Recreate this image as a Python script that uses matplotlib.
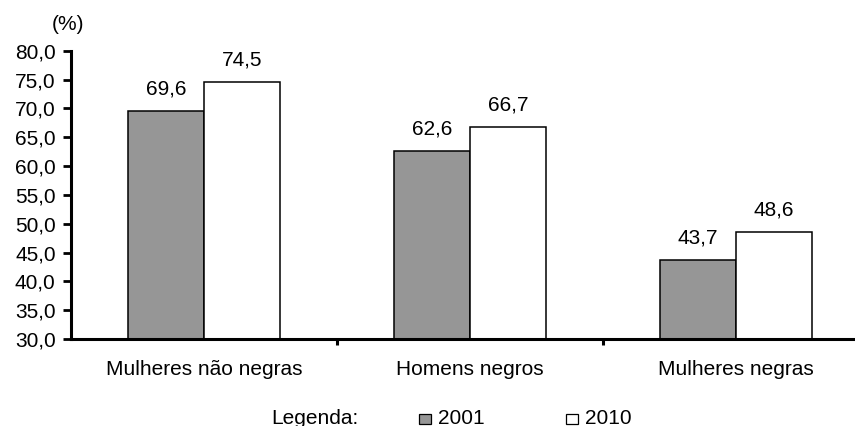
import matplotlib
matplotlib.use("Agg")
import matplotlib.pyplot as plt
from matplotlib.patches import Rectangle
from matplotlib.ticker import FuncFormatter, FixedLocator

plt.rcParams['font.family'] = ['Liberation Sans', 'DejaVu Sans']

categories = ["Mulheres não negras", "Homens negros", "Mulheres negras"]
years = ["2001", "2010"]
values_2001 = [69.6, 62.6, 43.7]
values_2010 = [74.5, 66.7, 48.6]
y_ticks = [30, 35, 40, 45, 50, 55, 60, 65, 70, 75, 80]

FS = 15
W, H = 855, 426
fig = plt.figure(figsize=(W / 100, H / 100), dpi=100)
ax = fig.add_axes([71 / W, 87 / H, 798 / W, 288.3 / H])

bar_w = 0.286
colors = ["#969696", "#ffffff"]
xs = range(len(categories))
for k, (vals, col) in enumerate(zip([values_2001, values_2010], colors)):
    offs = -bar_w / 2 if k == 0 else bar_w / 2
    pos = [x + offs for x in xs]
    ax.bar(pos, [v - 30 for v in vals], bottom=30, width=bar_w,
           color=col, edgecolor="black", linewidth=1.1, zorder=2)
    for p, v in zip(pos, vals):
        ax.annotate(f"{v:.1f}".replace(".", ","), xy=(p, v), xytext=(0, 9),
                    textcoords="offset points", ha="center", va="bottom",
                    fontsize=FS)

ax.set_xlim(-0.5, 2.5)
ax.set_ylim(30, 80)
ax.set_yticks(y_ticks)
ax.yaxis.set_major_formatter(FuncFormatter(lambda v, _: f"{v:.1f}".replace(".", ",")))
ax.tick_params(axis="y", direction="out", length=6, width=2, labelsize=FS, pad=5)

ax.set_xticks(list(xs))
ax.set_xticklabels(categories, fontsize=FS)
ax.tick_params(axis="x", which="major", length=0, pad=15)
ax.xaxis.set_minor_locator(FixedLocator([0.5, 1.5]))
ax.tick_params(axis="x", which="minor", direction="out", length=4, width=2.2)

for s in ["top", "right"]:
    ax.spines[s].set_visible(False)
for s in ["left", "bottom"]:
    ax.spines[s].set_linewidth(2.2)

fig.text(52 / W, 1 - 25 / H, "(%)", fontsize=FS, ha="left", va="center")

# legend row along the bottom
base_y = 1 - 424 / H
fig.text(271 / W, base_y, "Legenda:", fontsize=FS, ha="left", va="baseline")
for col, lab, x0 in zip(colors, years, [419, 566]):
    fig.add_artist(Rectangle((x0 / W, base_y), 12 / W, 10 / H,
                             transform=fig.transFigure, facecolor=col,
                             edgecolor="black", linewidth=0.9))
    fig.text((x0 + 19) / W, base_y, lab, fontsize=FS, ha="left", va="baseline")

fig.savefig("out.png", dpi=100)
